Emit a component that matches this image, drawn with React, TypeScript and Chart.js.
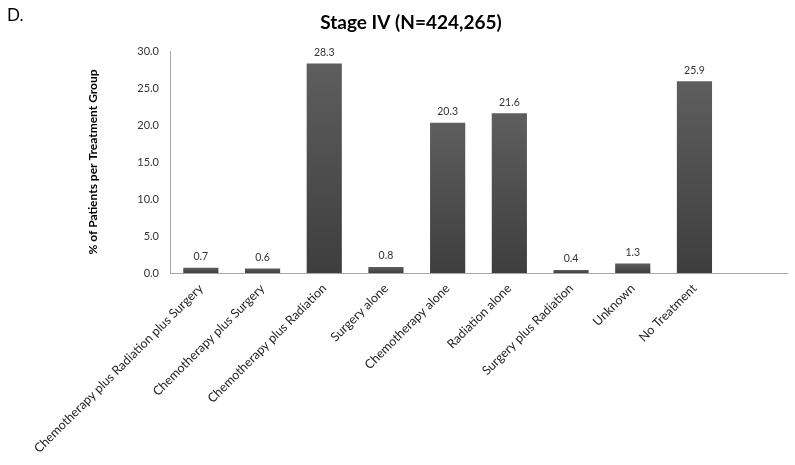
import React, { useEffect, useRef } from "react";
import { Chart, registerables } from "chart.js";

Chart.register(...registerables);

const categories: string[] = [
  "Chemotherapy plus Radiation plus Surgery",
  "Chemotherapy plus Surgery",
  "Chemotherapy plus Radiation",
  "Surgery alone",
  "Chemotherapy alone",
  "Radiation alone",
  "Surgery plus Radiation",
  "Unknown",
  "No Treatment",
  "",
];
const percentages: (number | null)[] = [0.7, 0.6, 28.3, 0.8, 20.3, 21.6, 0.4, 1.3, 25.9, null];
const yTicks: number[] = [0, 5, 10, 15, 20, 25, 30];
const panelLabel = "D.";
const chartTitle = "Stage IV (N=424,265)";
const yTitle = "% of Patients per Treatment Group";

const FONT = "Lato, 'Open Sans', sans-serif";

const textPlugin = {
  id: "extraText",
  afterDraw(chart: any) {
    const ctx = chart.ctx;
    ctx.save();
    ctx.fillStyle = "#000";
    ctx.font = `17px ${FONT}`;
    ctx.textAlign = "left";
    ctx.textBaseline = "middle";
    ctx.fillText(panelLabel, 7, 16);
    ctx.font = `bold 19px ${FONT}`;
    ctx.textAlign = "center";
    ctx.fillText(chartTitle, 411, 23);
    // data labels
    const meta = chart.getDatasetMeta(0);
    ctx.font = `10.5px ${FONT}`;
    ctx.fillStyle = "#333";
    ctx.textBaseline = "middle";
    meta.data.forEach((bar: any, i: number) => {
      const v = percentages[i];
      if (v === null || v === undefined) return;
      ctx.fillText(v.toFixed(1), bar.x, bar.y - 11);
    });
    ctx.restore();
  },
};

export default function App() {
  const ref = useRef<HTMLCanvasElement | null>(null);
  useEffect(() => {
    if (!ref.current) return;
    const chart = new Chart(ref.current, {
      type: "bar",
      data: {
        labels: categories,
        datasets: [
          {
            data: percentages as any,
            backgroundColor: (c: any) => {
              const chart = c.chart;
              const area = chart.chartArea;
              if (!area || c.raw == null) return "#4a4a4a";
              const y = chart.scales.y;
              const top = y.getPixelForValue(c.raw);
              const bottom = y.getPixelForValue(0);
              const g = chart.ctx.createLinearGradient(0, top, 0, bottom + 0.01);
              g.addColorStop(0, "#5e5e5e");
              g.addColorStop(1, "#3e3e3e");
              return g;
            },
            borderWidth: 0,
            categoryPercentage: 1,
            barPercentage: 0.57,
          },
        ],
      },
      options: {
        responsive: false,
        animation: false,
        layout: { padding: { left: 82, top: 51, right: 8, bottom: 0 } },
        plugins: {
          legend: { display: false },
          tooltip: { enabled: false },
          title: { display: false },
        },
        scales: {
          x: {
            grid: { display: false, drawTicks: false },
            border: { display: true, color: "#a6a6a6", width: 1 },
            ticks: {
              autoSkip: false,
              minRotation: 45,
              maxRotation: 45,
              padding: 8,
              color: "#262626",
              font: { family: FONT, size: 12.5 },
            },
            afterFit: (s: any) => {
              s.height = 192;
            },
          },
          y: {
            min: 0,
            max: 30,
            afterBuildTicks: (s: any) => {
              s.ticks = yTicks.map((v) => ({ value: v }));
            },
            grid: { display: false, drawTicks: false },
            border: { display: true, color: "#a6a6a6", width: 1 },
            ticks: {
              padding: 11,
              color: "#333",
              font: { family: FONT, size: 11 },
              callback: (v: any) => Number(v).toFixed(1),
            },
            title: {
              display: true,
              text: yTitle,
              color: "#000",
              font: { family: FONT, size: 12, weight: "bold" },
            },
            afterFit: (s: any) => {
              s.width = 88;
            },
          },
        },
      },
      plugins: [textPlugin],
    });
    return () => chart.destroy();
  }, []);
  return (
    <div style={{ position: "fixed", left: 0, top: 0, width: 795, height: 465, background: "#fff" }}>
      <canvas ref={ref} width={795} height={465} style={{ width: 795, height: 465 }} />
    </div>
  );
}
